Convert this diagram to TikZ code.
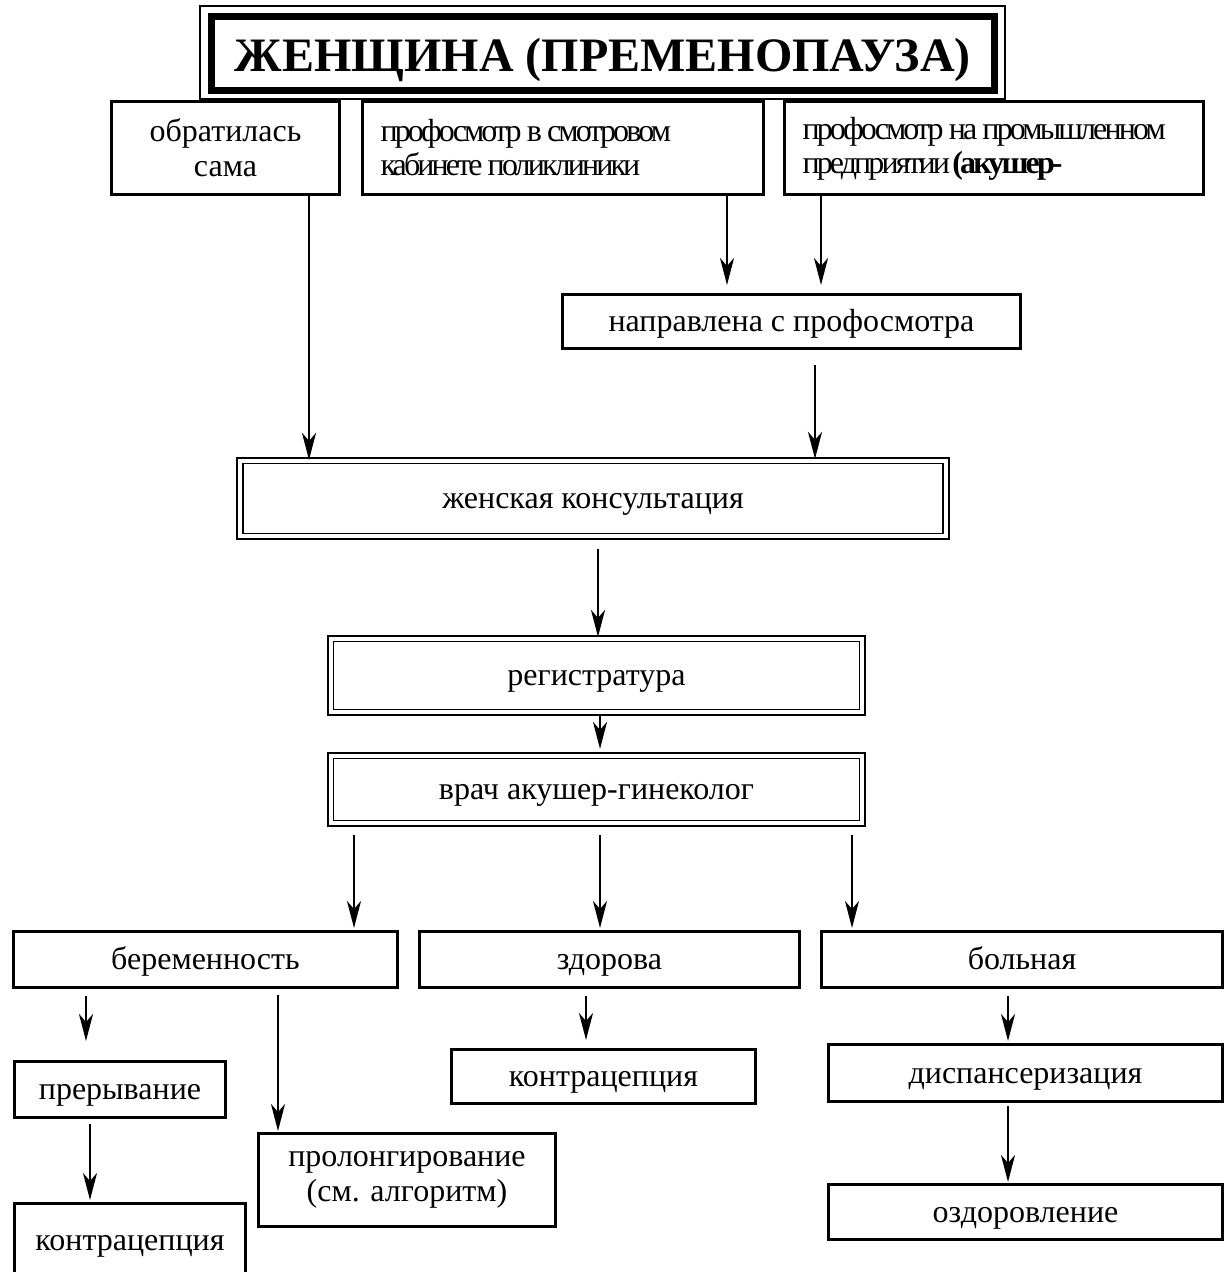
\documentclass[tikz,border=0pt]{standalone}
\usepackage{fontspec}
\setmainfont{Liberation Serif}[BoldFont={Liberation Serif Bold}]
\newfontfamily\tightfont{Liberation Serif}[LetterSpace=-9,BoldFont={Liberation Serif Bold}]
\newcommand\tsp{\hspace{2.6pt}}
\usetikzlibrary{arrows.meta,calc}
\begin{document}
\begin{tikzpicture}[x=0.5pt,y=-0.5pt,
  txt/.style={font=\fontsize{16}{17.5}\selectfont},
  one/.style={text height=12.5pt,text depth=2.5pt},
  box/.style={draw,line width=1.5pt,inner sep=0pt,align=center,txt},
  dbox/.style={draw,double,double distance=1.8pt,line width=0.9pt,inner sep=0pt,txt,one},
  tightbox/.style={draw,line width=1.5pt,inner ysep=0pt,inner xsep=9pt,align=left,
    font=\fontsize{16}{17}\selectfont\tightfont},
  arr/.style={line width=1.25pt,-{Stealth[length=13.5pt,width=7pt,inset=4pt]}}]
\useasboundingbox (0,0) rectangle (1230,1272);

% title with a heavy frame and a thin outer frame
\node[draw,line width=3.5pt,minimum width=391.75pt,minimum height=37pt,inner sep=0pt,
      text height=23pt,text depth=5pt,
      font=\fontsize{24}{28}\selectfont\bfseries] (T) at (602.75,53.5) {ЖЕНЩИНА (ПРЕМЕНОПАУЗА)};
\draw[line width=1pt] ($(T.north west)+(-8,-6.5)$) rectangle ($(T.south east)+(6.5,5.5)$);

% sources
\node[box,minimum width=114pt,minimum height=46.5pt] (A) at (225.5,148) {обратилась\\сама};
\node[tightbox,text width=182.5pt,minimum height=46.5pt] (B) at (563,148)
  {профосмотр\tsp в\tsp смотровом\\кабинете\tsp поликлиники};
\node[tightbox,text width=191.5pt,minimum height=46.5pt] (C) at (994,148.5)
  {профосмотр\tsp на\tsp промышленном\\предприятии\tsp\textbf{(акушер-}};
\node[box,one,minimum width=229pt,minimum height=27pt] (D) at (791.5,321.5) {направлена с профосмотра};

% clinic
\node[dbox,minimum width=353pt,minimum height=37.7pt] (E) at (593,498.5) {женская консультация};
\node[dbox,minimum width=265.7pt,minimum height=36.7pt] (F) at (596.5,675.5) {регистратура};
\node[dbox,minimum width=265.7pt,minimum height=33.7pt] (G) at (596.5,789.5) {врач акушер-гинеколог};

% outcomes
\node[box,one,minimum width=192pt,minimum height=28pt] (H) at (205.5,959.5) {беременность};
\node[box,one,minimum width=190pt,minimum height=28pt] (I) at (609.5,959.5) {здорова};
\node[box,one,minimum width=200.5pt,minimum height=28pt] (J) at (1022,959.5) {больная};

\node[box,one,minimum width=105.5pt,minimum height=28pt] (K) at (120,1089.5) {прерывание};
\node[box,minimum width=115.5pt,minimum height=52.5pt] (L) at (130,1256) {};
\node[txt,one,inner sep=0pt] (Lt) at (130,1240) {контрацепция};
\node[box,minimum width=148.5pt,minimum height=46.5pt] (M) at (407,1180) {пролонгирование\\(см. алгоритм)};
\node[box,one,minimum width=152pt,minimum height=27pt] (N) at (603.5,1076.5) {контрацепция};
\node[box,one,minimum width=197pt,minimum height=28.5pt] (O) at (1025.5,1073) {диспансеризация};
\node[box,one,minimum width=197pt,minimum height=27.5pt] (P) at (1025.5,1212) {оздоровление};

% connectors
\draw[arr] ($(A.south)+(83.5,0)$) -- ($(E.north)+(-284,0)$);
\draw[arr] ($(B.south)+(164,0)$) -- ($(D.north)+(-64.5,-8)$);
\draw[arr] ($(C.south)+(-173,0)$) -- ($(D.north)+(29.5,-8)$);
\draw[arr] ($(D.south)+(23.5,15)$) -- ($(E.north)+(222,-1)$);
\draw[arr] ($(E.south)+(5,12)$) -- ($(F.north)+(1.5,-1)$);
\draw[arr] ($(F.south)+(3.5,1)$) -- ($(G.north)+(3.5,-6)$);
\draw[arr] ($(G.south)+(-242.5,11)$) -- ($(H.north)+(148.5,-2)$);
\draw[arr] ($(G.south)+(3.5,11)$) -- ($(I.north)+(-9.5,-2)$);
\draw[arr] ($(G.south)+(255.5,11)$) -- ($(J.north)+(-170,-2)$);
\draw[arr] ($(H.south)+(-119.5,7)$) -- ($(K.north)+(-34,-19)$);
\draw[arr] ($(H.south)+(72.5,6)$) -- ($(M.north)+(-129,-1)$);
\draw[arr] ($(K.south)+(-30,5)$) -- ($(L.north)+(-40,-2)$);
\draw[arr] ($(I.south)+(-23.5,7)$) -- ($(N.north)+(-17.5,-8)$);
\draw[arr] ($(J.south)+(-14,7)$) -- ($(O.north)+(-17.5,-2)$);
\draw[arr] ($(O.south)+(-17.5,3)$) -- ($(P.north)+(-17.5,-1)$);
\end{tikzpicture}
\end{document}
